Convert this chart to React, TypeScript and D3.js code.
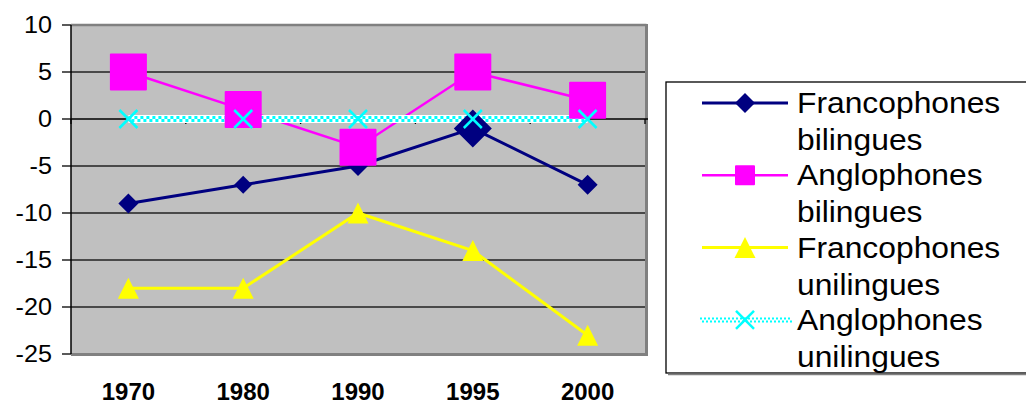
import React from "react";
import * as d3 from "d3";

const years = ["1970", "1980", "1990", "1995", "2000"];
const francoBilingues = [-9, -7, -5, -1, -7];
const angloBilingues = [5, 1, -3, 5, 2];
const francoUnilingues = [-18, -18, -10, -14, -23];
const angloUnilingues = [0, 0, 0, 0, 0];
const yTicks = [10, 5, 0, -5, -10, -15, -20, -25];
const seriesNames = [
  ["Francophones", "bilingues"],
  ["Anglophones", "bilingues"],
  ["Francophones", "unilingues"],
  ["Anglophones", "unilingues"],
];
// per-point marker size for the first series (Excel had one enlarged point)
const diamondSizes = [10, 9, 10, 19, 10];

const W = 1026, H = 404;
const L = 71, R = 645, T = 25, B = 354;
const FONT = "Arial, 'Liberation Sans', sans-serif";

function diamond(cx: number, cy: number, r: number, color: string, key?: any) {
  return <path key={key} d={`M${cx},${cy - r}L${cx + r},${cy}L${cx},${cy + r}L${cx - r},${cy}Z`} fill={color} />;
}
function square(cx: number, cy: number, s: number, color: string, key?: any) {
  return <rect key={key} x={cx - s / 2} y={cy - s / 2} width={s} height={s} fill={color} rx={1} />;
}
function triangle(cx: number, cy: number, w: number, color: string, key?: any) {
  const h = w;
  return <path key={key} d={`M${cx},${cy - h / 2}L${cx + w / 2},${cy + h / 2}L${cx - w / 2},${cy + h / 2}Z`} fill={color} />;
}
function cross(cx: number, cy: number, s: number, color: string, key?: any) {
  const r = s / 2;
  return (
    <g key={key} stroke={color} strokeWidth={2.5}>
      <line x1={cx - r} y1={cy - r} x2={cx + r} y2={cy + r} />
      <line x1={cx - r} y1={cy + r} x2={cx + r} y2={cy - r} />
    </g>
  );
}

export default function App() {
  const x = d3.scaleBand().domain(years).range([L, R]).padding(0);
  const y = d3.scaleLinear().domain([-25, 10]).range([B, T]);
  const cx = (c: string) => (x(c) as number) + x.bandwidth() / 2;
  const line = d3
    .line<number>()
    .x((_, i) => cx(years[i]))
    .y((v) => y(v));

  const y0 = y(0);
  const boundaries = years.map((c) => x(c) as number).concat([R]);

  const legX = 666, legTop = 82, legBottom = 373;
  const legRow = (i: number) => 113 + i * 72.3;

  return (
    <svg width={W} height={H} style={{ position: "absolute", left: 0, top: 0 }} fontFamily={FONT}>
      <rect x={0} y={0} width={W} height={H} fill="#fff" />
      {/* plot area */}
      <rect x={L} y={T} width={R - L} height={B - T} fill="#C0C0C0" />
      {/* gridlines */}
      {yTicks.filter((t) => t !== 10 && t !== -25 && t !== 0).map((t) => (
        <line key={t} x1={L} x2={R} y1={y(t)} y2={y(t)} stroke="#222" strokeWidth={1.3} />
      ))}
      {/* plot border (gray) */}
      <line x1={L} x2={R + 1.5} y1={T} y2={T} stroke="#808080" strokeWidth={2.5} />
      <line x1={R + 1.5} x2={R + 1.5} y1={T - 1} y2={B + 1.5} stroke="#808080" strokeWidth={3} />
      <line x1={L} x2={R + 3} y1={B + 0.5} y2={B + 0.5} stroke="#808080" strokeWidth={3} />
      {/* y axis */}
      <line x1={L} x2={L} y1={T} y2={B} stroke="#000" strokeWidth={1.5} />
      {yTicks.map((t) => (
        <g key={t}>
          <line x1={L - 9} x2={L} y1={y(t)} y2={y(t)} stroke="#000" strokeWidth={1.3} />
          <text
            x={52}
            y={y(t) + 8.5}
            textAnchor="end"
            fontSize={24}
            fill="#000"
            transform={`translate(52,0) scale(1.05,1) translate(-52,0)`}
          >
            {t}
          </text>
        </g>
      ))}
      {/* x axis at 0 */}
      <line x1={L} x2={R + 3} y1={y0} y2={y0} stroke="#000" strokeWidth={1.3} />
      {boundaries.map((b, i) => (
        <line key={i} x1={b} x2={b} y1={y0} y2={y0 + 5} stroke="#000" strokeWidth={1.3} />
      ))}
      {years.map((c) => (
        <text key={c} x={cx(c)} y={400} textAnchor="middle" fontSize={24} fontWeight="bold" fill="#000">
          {c}
        </text>
      ))}

      {/* lines */}
      <path d={line(francoBilingues) || ""} fill="none" stroke="#000080" strokeWidth={3} />
      <path d={line(angloBilingues) || ""} fill="none" stroke="#FF00FF" strokeWidth={2.5} />
      <path d={line(francoUnilingues) || ""} fill="none" stroke="#FFFF00" strokeWidth={3} />
      <path d={line(angloUnilingues) || ""} fill="none" stroke="#FFFFFF" strokeWidth={8} />
      <path
        d={line(angloUnilingues) || ""}
        transform="translate(0,-1.6)"
        fill="none"
        stroke="#00FFFF"
        strokeWidth={3}
        strokeDasharray="3 3"
      />
      <path
        d={line(angloUnilingues) || ""}
        transform="translate(0,1.6)"
        fill="none"
        stroke="#00FFFF"
        strokeWidth={3}
        strokeDasharray="3 3"
        strokeDashoffset={3}
      />

      {/* markers */}
      {francoBilingues.map((v, i) => diamond(cx(years[i]), y(v), diamondSizes[i], "#000080", "d" + i))}
      {angloBilingues.map((v, i) => square(cx(years[i]), y(v), 37, "#FF00FF", "s" + i))}
      {francoUnilingues.map((v, i) => triangle(cx(years[i]), y(v), 21, "#FFFF00", "t" + i))}
      {angloUnilingues.map((v, i) => cross(cx(years[i]), y(v), 18, "#00FFFF", "x" + i))}

      {/* legend */}
      <rect x={legX} y={legTop} width={W - legX + 10} height={legBottom - legTop} fill="#fff" stroke="#000" strokeWidth={1.3} />
      <line x1={legX + 2} x2={W} y1={legBottom + 1.5} y2={legBottom + 1.5} stroke="#808080" strokeWidth={1.5} />
      {seriesNames.map((nm, i) => {
        const by = legRow(i);
        const sy = by - 10;
        let sym: any = null;
        if (i === 0)
          sym = (
            <g>
              <line x1={702} x2={788} y1={sy} y2={sy} stroke="#000080" strokeWidth={3} />
              {diamond(745, sy, 10, "#000080")}
            </g>
          );
        if (i === 1)
          sym = (
            <g>
              <line x1={702} x2={788} y1={sy} y2={sy} stroke="#FF00FF" strokeWidth={2.5} />
              {square(745, sy, 20, "#FF00FF")}
            </g>
          );
        if (i === 2)
          sym = (
            <g>
              <line x1={702} x2={788} y1={sy} y2={sy} stroke="#FFFF00" strokeWidth={3} />
              {triangle(745, sy, 21, "#FFFF00")}
            </g>
          );
        if (i === 3)
          sym = (
            <g>
              <line x1={700} x2={792} y1={sy - 1.5} y2={sy - 1.5} stroke="#00FFFF" strokeWidth={2} strokeDasharray="2 2" />
              <line x1={700} x2={792} y1={sy + 1.5} y2={sy + 1.5} stroke="#00FFFF" strokeWidth={2} strokeDasharray="2 2" strokeDashoffset={2} />
              {cross(745, sy, 18, "#00FFFF")}
            </g>
          );
        return (
          <g key={i}>
            {sym}
            <g transform={`translate(797,0) scale(1.06,1)`}>
              <text x={0} y={by} fontSize={30} fill="#000">{nm[0]}</text>
              <text x={0} y={by + 37} fontSize={30} fill="#000">{nm[1]}</text>
            </g>
          </g>
        );
      })}
    </svg>
  );
}
